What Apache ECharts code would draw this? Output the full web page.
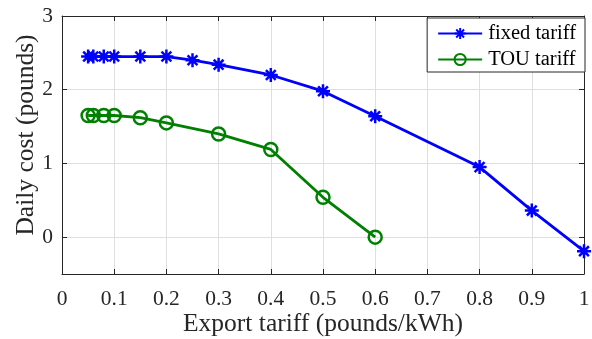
<!DOCTYPE html>
<html><head><meta charset="utf-8">
<script src="https://cdn.jsdelivr.net/npm/echarts@6/dist/echarts.min.js"></script>
<style>html,body{margin:0;padding:0;background:#fff}#c{width:592px;height:339px}</style>
</head><body><div id="c"></div>
<script>
const fixedX = [0.05, 0.06, 0.08, 0.1, 0.15, 0.2, 0.25, 0.3, 0.4, 0.5, 0.6, 0.8, 0.9, 1.0];
const fixedY = [2.45, 2.45, 2.45, 2.45, 2.45, 2.45, 2.40, 2.34, 2.20, 1.98, 1.64, 0.95, 0.36, -0.19];
const touX = [0.05, 0.06, 0.08, 0.1, 0.15, 0.2, 0.3, 0.4, 0.5, 0.6];
const touY = [1.65, 1.65, 1.65, 1.65, 1.62, 1.55, 1.40, 1.19, 0.54, 0.0];
const yTicks = [0, 1, 2, 3];
const seriesNames = ['fixed tariff', 'TOU tariff'];

const font = 'Liberation Serif';
const star = 'path://M-1,0L1,0M0,-1L0,1M-0.7,-0.7L0.7,0.7M-0.7,0.7L0.7,-0.7';
const axisCol = '#262626';
const gridCol = '#dfdfdf';

const chart = echarts.init(document.getElementById('c'), null, {renderer: 'canvas'});
const xCommon = {type: 'value', min: 0, max: 1, interval: 0.1,
  axisLine: {show: true, onZero: false, lineStyle: {color: axisCol, width: 1}},
  axisTick: {show: true, inside: true, length: 5, lineStyle: {color: axisCol}}};
const yCommon = {type: 'value', min: -0.5, max: 3,
  axisLine: {show: true, onZero: false, lineStyle: {color: axisCol, width: 1}},
  axisTick: {show: true, inside: true, length: 5, customValues: yTicks, lineStyle: {color: axisCol}}};
chart.setOption({
  animation: false,
  grid: {left: 62, right: 8, top: 16, bottom: 65, containLabel: false, outerBoundsMode: 'none'},
  xAxis: [
    Object.assign({}, xCommon, {position: 'bottom',
      name: 'Export tariff (pounds/kWh)', nameLocation: 'middle', nameGap: 37, nameMoveOverlap: false,
      nameTextStyle: {fontFamily: font, fontSize: 25.5, color: axisCol},
      axisLabel: {fontFamily: font, fontSize: 21.5, color: axisCol, margin: 14,
        formatter: v => (Math.round(v * 10) / 10).toString()},
      splitLine: {show: true, lineStyle: {color: gridCol, width: 1}}}),
    Object.assign({}, xCommon, {position: 'top', axisLabel: {show: false}, splitLine: {show: false}})
  ],
  yAxis: [
    Object.assign({}, yCommon, {position: 'left',
      name: 'Daily cost (pounds)', nameLocation: 'middle', nameGap: 23, nameMoveOverlap: false,
      nameTextStyle: {fontFamily: font, fontSize: 25.5, color: axisCol, padding: [0, 0, 0, 20]},
      axisLabel: {fontFamily: font, fontSize: 21.5, color: axisCol, margin: 9, customValues: yTicks},
      splitLine: {show: true, lineStyle: {color: gridCol, width: 1}}}),
    Object.assign({}, yCommon, {position: 'right', axisLabel: {show: false}, splitLine: {show: false}})
  ],
  legend: {
    right: 7, top: 18, orient: 'vertical', backgroundColor: '#fff',
    borderColor: axisCol, borderWidth: 1, padding: [5, 9, 2, 10], itemGap: 5,
    itemWidth: 44, itemHeight: 14,
    textStyle: {fontFamily: font, fontSize: 20.5, color: '#000', padding: [0, 0, 0, 1]},
    data: seriesNames
  },
  series: [
    {name: seriesNames[0], type: 'line', xAxisIndex: 0, yAxisIndex: 0,
     data: fixedX.map((x, i) => [x, fixedY[i]]),
     symbol: star, symbolSize: 14, showAllSymbol: true,
     lineStyle: {color: '#0000ff', width: 2.8},
     itemStyle: {color: '#0000ff', borderColor: '#0000ff', borderWidth: 2.5}, z: 3},
    {name: seriesNames[1], type: 'line', xAxisIndex: 0, yAxisIndex: 0,
     data: touX.map((x, i) => [x, touY[i]]),
     symbol: 'circle', symbolSize: 13, showAllSymbol: true,
     lineStyle: {color: '#008000', width: 2.8},
     itemStyle: {color: 'rgba(255,255,255,0)', borderColor: '#008000', borderWidth: 2.5}, z: 3}
  ]
});
</script></body></html>
